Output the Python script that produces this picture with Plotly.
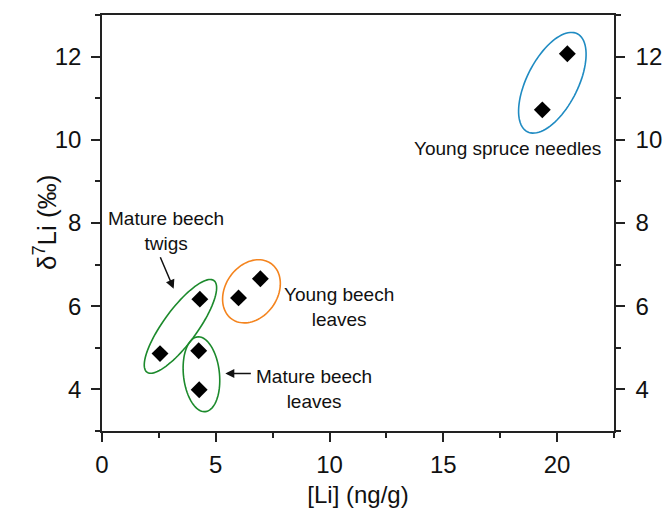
import math
import plotly.graph_objects as go

# ---- data ----
group_names = ["Mature beech twigs", "Mature beech leaves", "Young beech leaves", "Young spruce needles"]
twigs_li = [2.55, 4.30]
twigs_d7li = [4.86, 6.17]
leaves_li = [4.25, 4.27]
leaves_d7li = [4.93, 3.99]
young_beech_li = [6.00, 6.96]
young_beech_d7li = [6.20, 6.66]
spruce_li = [19.35, 20.45]
spruce_d7li = [10.72, 12.07]

x_ticks = [0, 5, 10, 15, 20]
y_ticks = [4, 6, 8, 10, 12]

group_x = [twigs_li, leaves_li, young_beech_li, spruce_li]
group_y = [twigs_d7li, leaves_d7li, young_beech_d7li, spruce_d7li]

# ---- layout geometry ----
W, H = 667, 512
ML, MR, MT, MB = 102, 53, 15, 81
XR = [0, 22.5]
YR = [3, 13]
pw, ph = W - ML - MR, H - MT - MB
sx = pw / (XR[1] - XR[0])
sy = ph / (YR[1] - YR[0])

FONT = "Liberation Sans, Arial, sans-serif"
AX = "#222222"
TXT = "#111111"

# ellipse styles (pixel sizes): color, semi-major, semi-minor, angle (None = from points), center offset px
ell_style = [
    dict(color="#1c8a2c", pad=23, b=17, angle=None, off=(0.5, 0)),
    dict(color="#1c8a2c", pad=18, b=18, angle=96, off=(2.5, -4)),
    dict(color="#f4841e", pad=None, a=34, b=26, angle=55, off=(2, -3)),
    dict(color="#1f8bc2", pad=None, a=55, b=25.5, angle=63, off=(-2.5, -1)),
]


def ellipse_path(xs, ys, st, n=90):
    cx = sum(xs) / len(xs) + st["off"][0] / sx
    cy = sum(ys) / len(ys) + st["off"][1] / sy
    dxp = (xs[-1] - xs[0]) * sx
    dyp = (ys[-1] - ys[0]) * sy
    if dxp < 0:
        dxp, dyp = -dxp, -dyp
    half = 0.5 * math.hypot(dxp, dyp)
    ang = st["angle"] if st["angle"] is not None else math.degrees(math.atan2(dyp, dxp))
    a = st["a"] if st.get("pad") is None else half + st["pad"]
    b = st["b"]
    th = math.radians(ang)
    pts = []
    for i in range(n + 1):
        t = 2 * math.pi * i / n
        px, py = a * math.cos(t), b * math.sin(t)
        ux = px * math.cos(th) - py * math.sin(th)
        uy = px * math.sin(th) + py * math.cos(th)
        pts.append((cx + ux / sx, cy + uy / sy))
    return "M " + " L ".join(f"{x:.4f},{y:.4f}" for x, y in pts) + " Z"


fig = go.Figure()

all_x = [v for g in group_x for v in g]
all_y = [v for g in group_y for v in g]
fig.add_trace(go.Scatter(
    x=all_x, y=all_y, mode="markers",
    marker=dict(symbol="diamond", size=13, color="black", line=dict(width=0)),
    showlegend=False, hoverinfo="x+y"))
fig.add_trace(go.Scatter(x=[None], y=[None], yaxis="y2", showlegend=False, hoverinfo="skip"))

shapes = []
for xs, ys, st in zip(group_x, group_y, ell_style):
    shapes.append(dict(type="path", xref="x", yref="y", path=ellipse_path(xs, ys, st),
                       line=dict(color=st["color"], width=1.6), fillcolor="rgba(0,0,0,0)", layer="below"))

tf = dict(family=FONT, size=19, color=TXT)
annotations = [
    dict(x=2.8, y=7.81, text="Mature beech<br>twigs", showarrow=False, font=tf, xref="x", yref="y"),
    dict(x=10.41, y=5.98, text="Young beech<br>leaves", showarrow=False, font=tf, xref="x", yref="y"),
    dict(x=9.31, y=4.01, text="Mature beech<br>leaves", showarrow=False, font=tf, xref="x", yref="y"),
    dict(x=17.84, y=9.80, text="Young spruce needles", showarrow=False, font=tf, xref="x", yref="y"),
    dict(x=3.15, y=6.42, ax=-14, ay=-33, text="", showarrow=True, arrowhead=2, arrowsize=1.2,
         arrowwidth=1.5, arrowcolor=TXT, xref="x", yref="y"),
    dict(x=5.42, y=4.38, ax=27, ay=0, text="", showarrow=True, arrowhead=2, arrowsize=1.2,
         arrowwidth=1.5, arrowcolor=TXT, xref="x", yref="y"),
    # y-axis title
    dict(x=0, y=0.5, xref="paper", yref="paper", xshift=-57, xanchor="center", yanchor="middle",
         text="δ<sup>7</sup>Li (‰)", textangle=-90, showarrow=False,
         font=dict(family=FONT, size=26, color=TXT)),
]

axis_common = dict(showline=True, linewidth=1.5, linecolor=AX, ticks="outside", ticklen=9,
                   tickwidth=1.5, tickcolor=AX, showgrid=False, zeroline=False,
                   tickfont=dict(family=FONT, size=24, color=TXT))

fig.update_layout(
    width=W, height=H, margin=dict(l=ML, r=MR, t=MT, b=MB, autoexpand=False),
    plot_bgcolor="white", paper_bgcolor="white",
    xaxis=dict(range=XR, tickvals=x_ticks, mirror=True, ticklabelstandoff=2,
               minor=dict(ticks="outside", dtick=2.5, ticklen=5, tickwidth=1.5, tickcolor=AX),
               title=dict(text="[Li] (ng/g)", font=dict(family=FONT, size=24, color=TXT), standoff=10),
               **axis_common),
    yaxis=dict(range=YR, tickvals=y_ticks, ticklabelstandoff=5,
               minor=dict(ticks="outside", dtick=1, ticklen=5, tickwidth=1.5, tickcolor=AX),
               **axis_common),
    yaxis2=dict(range=YR, tickvals=y_ticks, overlaying="y", side="right", anchor="x",
                ticklabelstandoff=6,
                minor=dict(ticks="outside", dtick=1, ticklen=5, tickwidth=1.5, tickcolor=AX),
                **axis_common),
    shapes=shapes, annotations=annotations,
)

fig.write_html("out.html", config={"displayModeBar": False},
               post_script="document.body.style.margin='0';document.body.style.padding='0';")
